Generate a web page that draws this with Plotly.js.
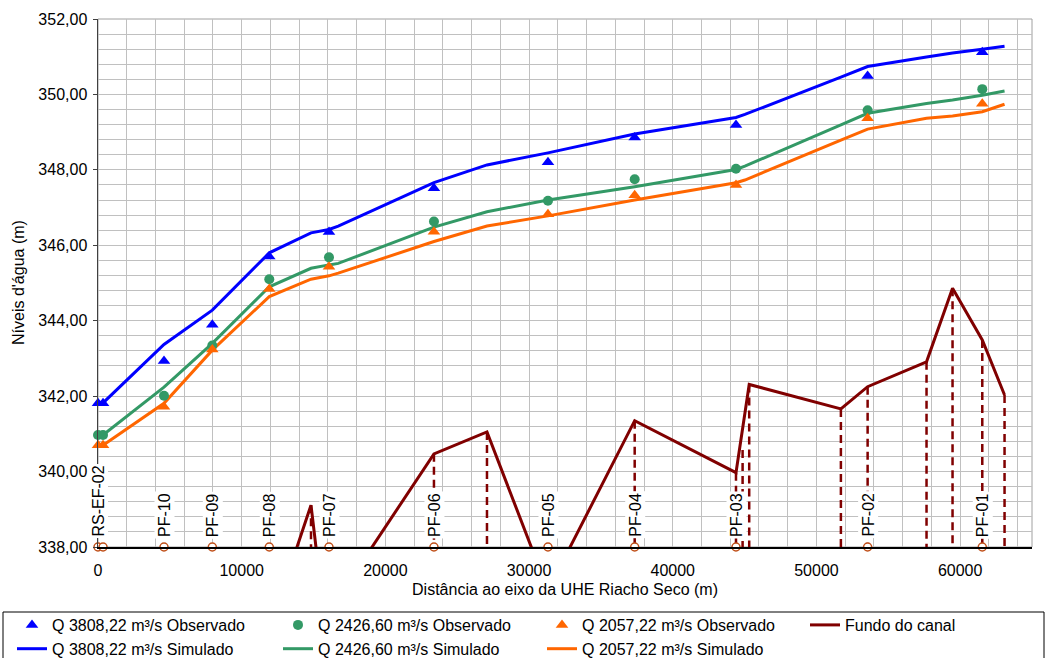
<!DOCTYPE html>
<html><head><meta charset="utf-8">
<script src="https://cdn.plot.ly/plotly-3.0.1.min.js"></script>
<style>html,body{margin:0;padding:0;background:#fff}#chart{width:1047px;height:658px}</style>
</head><body><div id="chart"></div>
<script>
const stationNames = ['RS-EF-02','PF-10','PF-09','PF-08','PF-07','PF-06','PF-05','PF-04','PF-03','PF-02','PF-01'];
const stationX = [0,4593,7955,11920,16075,23380,31315,37350,44400,53560,61540];
const stationMarkX = [0,350,4593,7955,11920,16075,23380,31315,37350,44400,53560,61540];

const obsX = [0,350,4593,7955,11920,16075,23380,31315,37350,44400,53560,61540];
const obsQ3808 = [341.81,341.81,342.93,343.89,345.70,346.35,347.51,348.20,348.86,349.19,350.49,351.12];
const obsQ2426 = [340.97,340.97,342.01,343.34,345.10,345.68,346.63,347.18,347.75,348.03,349.58,350.14];
const obsQ2057 = [340.70,340.70,341.72,343.24,344.84,345.43,346.36,346.82,347.33,347.60,349.37,349.75];

const simX = [0,350,4593,7955,11920,14823,16075,16720,23380,27070,31315,37350,44400,45020,51700,53560,57660,59470,61540,63090];
const simQ3808 = [341.82,341.82,343.37,344.28,345.80,346.33,346.42,346.51,347.66,348.13,348.45,348.95,349.39,349.47,350.46,350.74,350.99,351.10,351.20,351.28];
const simQ2426 = [340.97,340.97,342.24,343.40,344.90,345.39,345.48,345.52,346.48,346.89,347.20,347.55,348.01,348.10,349.19,349.50,349.76,349.85,349.98,350.09];
const simQ2057 = [340.70,340.70,341.81,343.22,344.64,345.10,345.19,345.26,346.10,346.51,346.78,347.20,347.66,347.73,348.79,349.08,349.37,349.43,349.54,349.74];

const fundoX = [0,12000,14823,15760,23380,27070,31315,37350,44400,45320,51700,53560,57660,59470,61540,63090];
const fundoY = [335.8,335.89,339.11,336.1,340.47,341.05,336.85,341.35,339.97,342.31,341.66,342.25,342.91,344.86,343.49,342.03];

const dropX = [14823,23380,27070,37350,44400,44860,45320,51700,53560,57660,59470,61540,63090];
const dropTop = [339.11,340.47,341.05,341.35,339.97,340.57,342.31,341.66,342.25,342.91,344.86,343.49,342.03];

const yTitle = "Níveis d'água (m)";
const xTitle = 'Distância ao eixo da UHE Riacho Seco (m)';

const yBase = 338;
const FONT = 'Liberation Sans, Arial, sans-serif';
const C_BLUE = '#0000FF', C_GREEN = '#339966', C_ORANGE = '#FF6600', C_FUNDO = '#800000';

const dx = [], dy = [];
dropX.forEach((x, i) => { dx.push(x, x, null); dy.push(dropTop[i], yBase, null); });

const traces = [
  {x: dx, y: dy, mode: 'lines', line: {color: C_FUNDO, width: 2.5, dash: '8px,5px'}, showlegend: false, hoverinfo: 'skip'},
  {x: fundoX, y: fundoY, mode: 'lines', name: 'Fundo do canal', line: {color: C_FUNDO, width: 3}, legend: 'legend4'},
  {x: simX, y: simQ3808, mode: 'lines', name: 'Q 3808,22 m³/s Simulado', line: {color: C_BLUE, width: 3}, legend: 'legend', legendrank: 2},
  {x: simX, y: simQ2426, mode: 'lines', name: 'Q 2426,60 m³/s Simulado', line: {color: C_GREEN, width: 3}, legend: 'legend2', legendrank: 2},
  {x: simX, y: simQ2057, mode: 'lines', name: 'Q 2057,22 m³/s Simulado', line: {color: C_ORANGE, width: 3}, legend: 'legend3', legendrank: 2},
  {x: obsX, y: obsQ3808, mode: 'markers', name: 'Q 3808,22 m³/s Observado', marker: {symbol: 'triangle-up', size: 11, color: C_BLUE}, legend: 'legend', legendrank: 1, cliponaxis: false},
  {x: obsX, y: obsQ2426, mode: 'markers', name: 'Q 2426,60 m³/s Observado', marker: {symbol: 'circle', size: 10, color: C_GREEN}, legend: 'legend2', legendrank: 1, cliponaxis: false},
  {x: obsX, y: obsQ2057, mode: 'markers', name: 'Q 2057,22 m³/s Observado', marker: {symbol: 'triangle-up', size: 11, color: C_ORANGE}, legend: 'legend3', legendrank: 1, cliponaxis: false},
  {x: stationMarkX, y: stationMarkX.map(() => yBase), mode: 'markers', marker: {symbol: 'circle', size: 8, color: '#FFFFFF', line: {color: '#C0501A', width: 1.5}}, showlegend: false, cliponaxis: false, hoverinfo: 'skip'}
];

const annotations = stationNames.map((n, i) => ({
  x: stationX[i], y: yBase, xref: 'x', yref: 'y', text: n, showarrow: false,
  textangle: -90, xanchor: 'center', yanchor: 'bottom', yshift: 8,
  bgcolor: '#FFFFFF', borderpad: 1, font: {family: FONT, size: 16, color: '#000'}
}));
annotations.push({
  x: (18 - 98) / 934, y: 0.5, xref: 'paper', yref: 'paper', text: yTitle, showarrow: false,
  textangle: -90, xanchor: 'center', yanchor: 'middle', font: {family: FONT, size: 16, color: '#000'}
});

const legBase = {orientation: 'v', xref: 'container', yref: 'container', yanchor: 'top', xanchor: 'left',
  y: 1 - 608/658, bgcolor: 'rgba(0,0,0,0)', borderwidth: 0, font: {family: FONT, size: 16, color: '#000'}, itemwidth: 30};

const layout = {
  width: 1047, height: 658,
  margin: {l: 98, r: 15, t: 19, b: 111, autoexpand: false},
  paper_bgcolor: '#FFFFFF', plot_bgcolor: '#FFFFFF',
  separators: ',.',
  font: {family: FONT, size: 16, color: '#000'},
  showlegend: true,
  legend: Object.assign({}, legBase, {x: 12/1047}),
  legend2: Object.assign({}, legBase, {x: 278/1047}),
  legend3: Object.assign({}, legBase, {x: 542/1047}),
  legend4: Object.assign({}, legBase, {x: 805/1047}),
  xaxis: {
    range: [0, 65000], dtick: 10000, tick0: 0, tickformat: 'd',
    showgrid: true, gridcolor: '#C0C0C0', gridwidth: 1,
    minor: {dtick: 2000, showgrid: true, gridcolor: '#C0C0C0', gridwidth: 1},
    showline: true, linecolor: '#000000', linewidth: 1.5, zeroline: false,
    ticks: '', ticklabelstandoff: 8,
    tickfont: {family: FONT, size: 16, color: '#000'},
    title: {text: xTitle, font: {family: FONT, size: 16, color: '#000'}, standoff: 6}
  },
  yaxis: {
    range: [338, 352], dtick: 2, tick0: 338, tickformat: '.2f',
    showgrid: true, gridcolor: '#C0C0C0', gridwidth: 1,
    minor: {dtick: 0.4, tick0: 338, showgrid: true, gridcolor: '#C0C0C0', gridwidth: 1},
    showline: true, linecolor: '#404040', linewidth: 1.5, zeroline: false,
    ticks: 'outside', ticklen: 4, tickcolor: '#404040', ticklabelstandoff: 2,
    tickfont: {family: FONT, size: 16, color: '#000'}
  },
  shapes: [
    {type: 'rect', xref: 'paper', yref: 'paper', x0: 0, x1: 1, y0: 0, y1: 1, line: {color: '#A0A0A0', width: 1}, layer: 'below'},
    {type: 'rect', xref: 'paper', yref: 'paper', x0: (3-98)/934, x1: (1044-98)/934, y0: (547-612)/528, y1: (547-664)/528, line: {color: '#000000', width: 1}, fillcolor: 'rgba(0,0,0,0)'}
  ],
  annotations: annotations
};

Plotly.newPlot('chart', traces, layout, {displayModeBar: false, staticPlot: true});
</script>
</body></html>
